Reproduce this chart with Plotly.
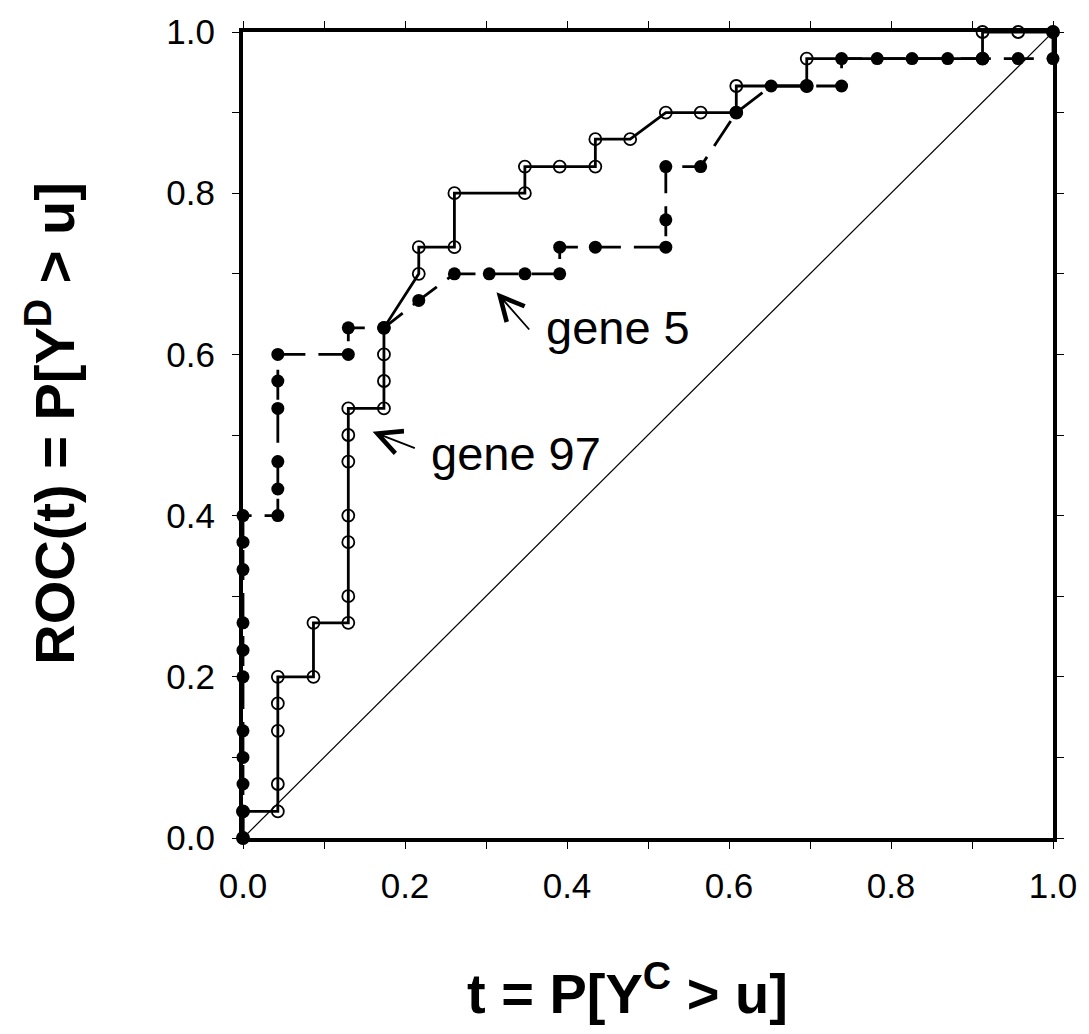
import plotly.graph_objects as go

# ROC points: t = false positive fraction, roc = true positive fraction
gene97_t = [0.0, 0.0, 0.043, 0.043, 0.043, 0.043, 0.043, 0.087, 0.087, 0.130,
            0.130, 0.130, 0.130, 0.130, 0.130, 0.130, 0.174, 0.174, 0.174, 0.174,
            0.217, 0.217, 0.261, 0.261, 0.348, 0.348, 0.391, 0.435, 0.435, 0.478,
            0.522, 0.565, 0.609, 0.609, 0.696, 0.696, 0.913, 0.913, 0.957, 1.0]
gene97_roc = [0.0, 0.033, 0.033, 0.067, 0.133, 0.167, 0.200, 0.200, 0.267, 0.267,
              0.300, 0.367, 0.400, 0.467, 0.500, 0.533, 0.533, 0.567, 0.600, 0.633,
              0.700, 0.733, 0.733, 0.800, 0.800, 0.833, 0.833, 0.833, 0.867, 0.867,
              0.900, 0.900, 0.900, 0.933, 0.933, 0.967, 0.967, 1.0, 1.0, 1.0]

gene5_t = [0.0, 0.0, 0.0, 0.0, 0.0, 0.0, 0.0, 0.0, 0.0, 0.0,
           0.0, 0.043, 0.043, 0.043, 0.043, 0.043, 0.043, 0.130, 0.130, 0.174,
           0.217, 0.261, 0.304, 0.348, 0.391, 0.391, 0.435, 0.522, 0.522, 0.522,
           0.565, 0.609, 0.652, 0.696, 0.739, 0.739, 0.783, 0.826, 0.870, 0.913,
           0.957, 1.0, 1.0]
gene5_roc = [0.0, 0.033, 0.067, 0.100, 0.133, 0.200, 0.233, 0.267, 0.333, 0.367,
             0.400, 0.400, 0.433, 0.467, 0.533, 0.567, 0.600, 0.600, 0.633, 0.633,
             0.667, 0.700, 0.700, 0.700, 0.700, 0.733, 0.733, 0.733, 0.767, 0.833,
             0.833, 0.900, 0.933, 0.933, 0.933, 0.967, 0.967, 0.967, 0.967, 0.967,
             0.967, 0.967, 1.0]

chance = [0.0, 1.0]

tick_vals = [0.0, 0.2, 0.4, 0.6, 0.8, 1.0]
tick_text = ["0.0", "0.2", "0.4", "0.6", "0.8", "1.0"]

FONT = "Arial, Liberation Sans, sans-serif"

fig = go.Figure()

# diagonal reference line
fig.add_trace(go.Scatter(x=chance, y=chance, mode="lines",
                         line=dict(color="black", width=1.2), cliponaxis=False))

# gene 97: open circles, solid line
fig.add_trace(go.Scatter(x=gene97_t, y=gene97_roc, mode="lines+markers",
                         line=dict(color="black", width=2.8),
                         marker=dict(symbol="circle-open", size=12, color="black",
                                     line=dict(width=1.8)),
                         cliponaxis=False))

# gene 5: filled circles, dashed line
fig.add_trace(go.Scatter(x=gene5_t, y=gene5_roc, mode="lines+markers",
                         line=dict(color="black", width=2.8, dash="30px,13px"),
                         marker=dict(symbol="circle", size=13, color="black"),
                         cliponaxis=False))

axis = dict(range=[0, 1], tickvals=tick_vals, ticktext=tick_text,
            showline=True, linewidth=4, linecolor="black", mirror="ticks",
            ticks="outside", ticklen=7, tickwidth=1, tickcolor="black",
            minor=dict(dtick=0.1, ticks="outside", ticklen=7, tickwidth=1, tickcolor="black"),
            showgrid=False, zeroline=False,
            tickfont=dict(family=FONT, size=35, color="black"))

fig.update_layout(
    width=1089, height=1034,
    margin=dict(l=243, r=32, t=23, b=196),
    paper_bgcolor="white", plot_bgcolor="white",
    showlegend=False,
    xaxis=dict(axis, ticklabelstandoff=7),
    yaxis=dict(axis, ticklabelstandoff=10),
)

# axis titles
fig.add_annotation(text="<b>t = P[Y<sup>C</sup> > u]</b>", xref="paper", yref="paper",
                   x=0.475, y=-0.234, showarrow=False,
                   font=dict(family=FONT, size=56, color="black"),
                   xanchor="center", yanchor="bottom")
fig.add_annotation(text="<b>ROC(t) = P[Y<sup>D</sup> > u]</b>", xref="paper", yref="paper",
                   x=-0.236, y=0.515, showarrow=False, textangle=-90,
                   font=dict(family=FONT, size=56, color="black"),
                   xanchor="center", yanchor="middle")

# curve labels with arrows
fig.add_annotation(text="gene 5", x=0.372, y=0.633, xref="x", yref="y",
                   showarrow=False, xanchor="left", yanchor="middle",
                   font=dict(family=FONT, size=47, color="black"))
fig.add_annotation(text="", x=0.313, y=0.677, ax=0.355, ay=0.629,
                   xref="x", yref="y", axref="x", ayref="y",
                   showarrow=True, arrowhead=5, arrowsize=2.6, arrowwidth=1.8,
                   arrowcolor="black", standoff=0)
fig.add_annotation(text="gene 97", x=0.230, y=0.477, xref="x", yref="y",
                   showarrow=False, xanchor="left", yanchor="middle",
                   font=dict(family=FONT, size=47, color="black"))
fig.add_annotation(text="", x=0.160, y=0.504, ax=0.214, ay=0.483,
                   xref="x", yref="y", axref="x", ayref="y",
                   showarrow=True, arrowhead=5, arrowsize=2.6, arrowwidth=1.8,
                   arrowcolor="black", standoff=0)

# drop the default 8px page margin so the figure sits at the window corner
fig.write_html("out.html", config={"displayModeBar": False},
               post_script="document.body.style.margin = '0px';")
